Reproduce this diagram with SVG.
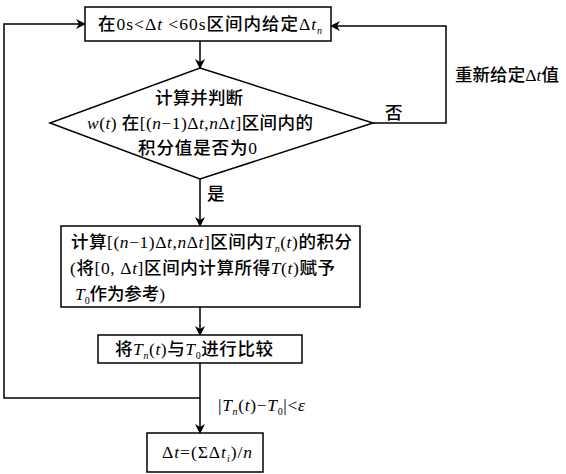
<svg xmlns="http://www.w3.org/2000/svg" width="566" height="474" viewBox="0 0 566 474">
<style>
.box{fill:#fff;stroke:#000;stroke-width:1.5}
.ln{fill:none;stroke:#000;stroke-width:1.5}
text{font-family:"Liberation Serif","Noto Sans CJK SC",serif;font-size:17.5px;font-weight:500;fill:#000}
.i{font-style:italic}
.s{font-size:10px;font-style:italic}
.s0{font-size:10px}
</style>
<defs>
<marker id="ah" markerWidth="10" markerHeight="10" refX="9" refY="5" orient="auto" markerUnits="userSpaceOnUse">
<path d="M0,0 L10,5 L0,10 L3,5 Z" fill="#000"/>
</marker>
</defs>
<rect width="566" height="474" fill="#fff"/>
<g id="connectors">
<path class="ln" d="M200,41 V68" marker-end="url(#ah)"/>
<path class="ln" d="M200,179 V226" marker-end="url(#ah)"/>
<path class="ln" d="M200,307 V335" marker-end="url(#ah)"/>
<path class="ln" d="M200,363 V433" marker-end="url(#ah)"/>
<path class="ln" d="M373,123 H446 V26 H331" marker-end="url(#ah)"/>
<path class="ln" d="M200,398 H4 V24 H85" marker-end="url(#ah)"/>
<text x="455" y="81" textLength="104" lengthAdjust="spacing">重新给定Δ<tspan class="i">t</tspan>值</text>
<text x="385" y="119">否</text>
<text x="207" y="200">是</text>
<text x="218" y="411" textLength="87" lengthAdjust="spacing">|<tspan class="i">T</tspan><tspan class="s" dy="4">n</tspan><tspan dy="-4">(</tspan><tspan class="i">t</tspan>)−<tspan class="i">T</tspan><tspan class="s0" dy="4">0</tspan><tspan dy="-4">|&lt;</tspan><tspan class="i">ε</tspan></text>
</g>
<g id="start">
<rect class="box" x="85" y="7" width="246" height="34"/>
<text x="98" y="30" textLength="224" lengthAdjust="spacing">在0s&lt;Δ<tspan class="i">t</tspan> &lt;60s区间内给定Δ<tspan class="i">t</tspan><tspan class="s" dy="4">n</tspan></text>
</g>
<g id="decision">
<polygon class="box" points="200,68 373,123 200,179 50,123"/>
<text x="155" y="104" textLength="88" lengthAdjust="spacing">计算并判断</text>
<text x="87" y="129" textLength="226" lengthAdjust="spacing"><tspan class="i">w</tspan>(<tspan class="i">t</tspan>) 在[(<tspan class="i">n</tspan>−1)Δ<tspan class="i">t</tspan>,<tspan class="i">n</tspan>Δ<tspan class="i">t</tspan>]区间内的</text>
<text x="138" y="154" textLength="119" lengthAdjust="spacing">积分值是否为0</text>
</g>
<g id="integrate">
<rect class="box" x="61" y="226" width="299" height="81"/>
<text x="71" y="248" textLength="281" lengthAdjust="spacing">计算[(<tspan class="i">n</tspan>−1)Δ<tspan class="i">t</tspan>,<tspan class="i">n</tspan>Δ<tspan class="i">t</tspan>]区间内<tspan class="i">T</tspan><tspan class="s" dy="4">n</tspan><tspan dy="-4">(</tspan><tspan class="i">t</tspan>)的积分</text>
<text x="70" y="274" textLength="265" lengthAdjust="spacing">(将[0, Δ<tspan class="i">t</tspan>]区间内计算所得<tspan class="i">T</tspan>(<tspan class="i">t</tspan>)赋予</text>
<text x="75" y="300" textLength="90" lengthAdjust="spacing"><tspan class="i">T</tspan><tspan class="s0" dy="4">0</tspan><tspan dy="-4">作为参考)</tspan></text>
</g>
<g id="compare">
<rect class="box" x="98" y="335" width="204" height="28"/>
<text x="115" y="355" textLength="158" lengthAdjust="spacing">将<tspan class="i">T</tspan><tspan class="s" dy="4">n</tspan><tspan dy="-4">(</tspan><tspan class="i">t</tspan>)与<tspan class="i">T</tspan><tspan class="s0" dy="4">0</tspan><tspan dy="-4">进行比较</tspan></text>
</g>
<g id="result">
<rect class="box" x="147" y="433" width="116" height="39"/>
<text x="162" y="458" textLength="90" lengthAdjust="spacing">Δ<tspan class="i">t</tspan>=(ΣΔ<tspan class="i">t</tspan><tspan class="s" dy="4">i</tspan><tspan dy="-4">)/</tspan><tspan class="i">n</tspan></text>
</g>
</svg>
